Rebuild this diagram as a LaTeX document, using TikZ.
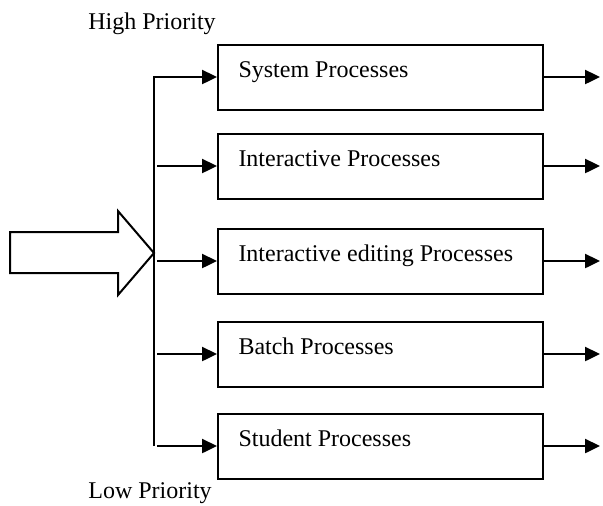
\documentclass[tikz,border=0pt]{standalone}
\usepackage{fontspec}
\setmainfont{Liberation Serif}
\usetikzlibrary{arrows.meta}

\begin{document}
\begin{tikzpicture}[x=0.5pt, y=-0.5pt,
	procbox/.style={rectangle, draw, line width=1pt, minimum width=162.5pt, minimum height=32.5pt, text width=142pt, align=flush left, inner xsep=10pt, text height=8pt, text depth=8pt, font=\fontsize{12}{14}\selectfont},
	flow/.style={line width=1.2pt, -{Triangle[length=7.5pt, width=7pt]}},
	prio/.style={anchor=base west, inner sep=0pt, font=\fontsize{12}{14}\selectfont}]
	\useasboundingbox (0,0) rectangle (603,505);
	\node[prio] (hi) at (88, 29) {High Priority};
	\node[prio] (lo) at (88, 498) {Low Priority};
	\node[procbox] (p1) at (380.5, 77) {System Processes};
	\node[procbox] (p2) at (380.5, 166) {Interactive Processes};
	\node[procbox] (p3) at (380.5, 261) {Interactive editing Processes};
	\node[procbox] (p4) at (380.5, 354) {Batch Processes};
	\node[procbox] (p5) at (380.5, 446) {Student Processes};
	\coordinate (s1) at (154, 77);
	\coordinate (s2) at (157, 166);
	\coordinate (s3) at (157, 261);
	\coordinate (s4) at (157, 354);
	\coordinate (s5) at (154, 446);
	\coordinate (o1) at (600, 77);
	\coordinate (o2) at (600, 166);
	\coordinate (o3) at (600, 261);
	\coordinate (o4) at (600, 354);
	\coordinate (o5) at (600, 446);
	% incoming queue
	\draw[line width=1pt] (10, 232) -- (118, 232) -- (118, 211) -- (154, 253) -- (118, 295) -- (118, 273) -- (10, 273) -- cycle;
	\draw[flow] (s5) -- (s1) -- (p1);
	\draw[flow] (s2) -- (p2);
	\draw[flow] (s3) -- (p3);
	\draw[flow] (s4) -- (p4);
	\draw[flow] ([xshift=1.5pt]s5) -- (p5);
	\draw[flow] (p1) -- (o1);
	\draw[flow] (p2) -- (o2);
	\draw[flow] (p3) -- (o3);
	\draw[flow] (p4) -- (o4);
	\draw[flow] (p5) -- (o5);
\end{tikzpicture}
\end{document}
